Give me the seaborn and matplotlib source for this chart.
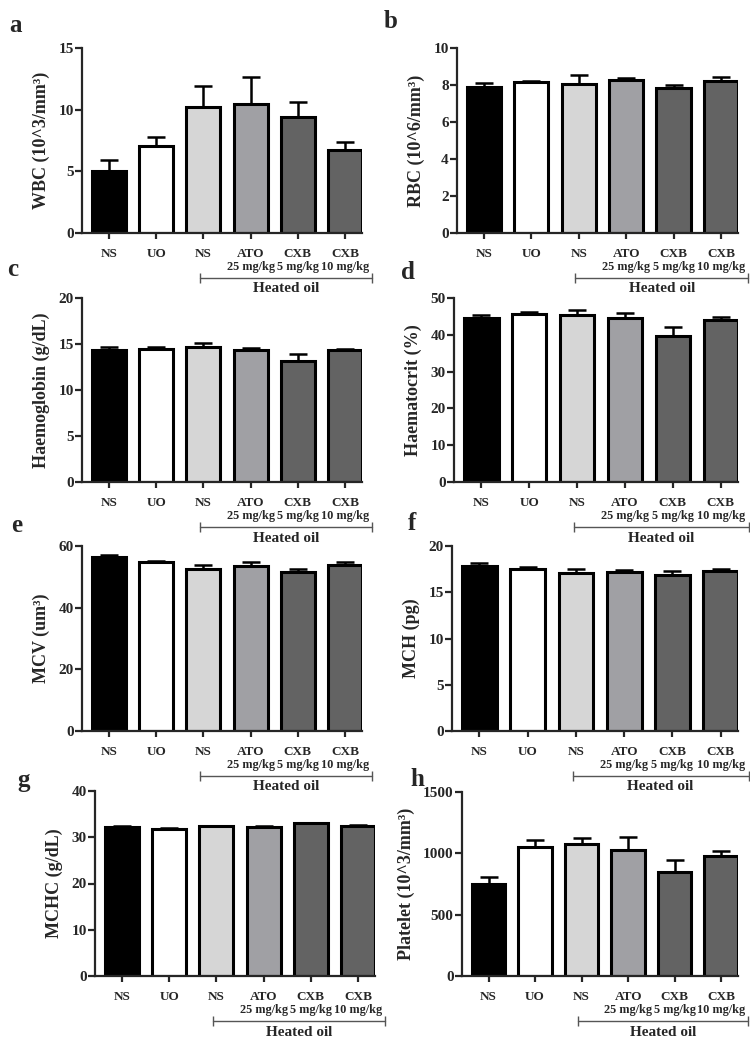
import numpy as np
import pandas as pd
import seaborn as sns
from matplotlib import pyplot as plt

# groups (x order) and tick labels
groups = ['NS', 'UO', 'NS_h', 'ATO', 'CXB5', 'CXB10']
tick_labels = ['NS', 'UO', 'NS', 'ATO', 'CXB', 'CXB']
dose_labels = ['', '', '', '25 mg/kg', '5 mg/kg', '10 mg/kg']
bar_colors = ['#000000', '#ffffff', '#d6d6d6', '#a0a0a4', '#636363', '#636363']

# means and upper error (SEM) for each panel
wbc = [5.0, 7.05, 10.2, 10.45, 9.4, 6.7]
wbc_err = [0.9, 0.75, 1.75, 2.2, 1.25, 0.7]
rbc = [7.89, 8.16, 8.07, 8.25, 7.84, 8.23]
rbc_err = [0.22, 0.06, 0.49, 0.11, 0.18, 0.18]
hb = [14.3, 14.5, 14.7, 14.3, 13.15, 14.3]
hb_err = [0.37, 0.15, 0.45, 0.22, 0.72, 0.18]
hct = [44.5, 45.6, 45.4, 44.6, 39.8, 44.1]
hct_err = [1.0, 0.5, 1.3, 1.2, 2.2, 0.8]
mcv = [56.5, 54.7, 52.5, 53.5, 51.6, 53.7]
mcv_err = [0.6, 0.5, 1.3, 1.2, 1.1, 1.2]
mch = [17.85, 17.55, 17.12, 17.15, 16.88, 17.3]
mch_err = [0.35, 0.22, 0.43, 0.25, 0.42, 0.17]
mchc = [32.2, 31.86, 32.4, 32.2, 33.0, 32.36]
mchc_err = [0.2, 0.14, 0.1, 0.15, 0.15, 0.34]
plt_vals = [754, 1051, 1076, 1024, 851, 978]
plt_err = [49, 54, 51, 108, 98, 41]

panels = [
    ('a', wbc, wbc_err, 'WBC (10^3/mm³)', 15, 5),
    ('b', rbc, rbc_err, 'RBC (10^6/mm³)', 10, 2),
    ('c', hb, hb_err, 'Haemoglobin (g/dL)', 20, 5),
    ('d', hct, hct_err, 'Haematocrit (%)', 50, 10),
    ('e', mcv, mcv_err, 'MCV (um³)', 60, 20),
    ('f', mch, mch_err, 'MCH (pg)', 20, 5),
    ('g', mchc, mchc_err, 'MCHC (g/dL)', 40, 10),
    ('h', plt_vals, plt_err, 'Platelet (10^3/mm³)', 1500, 500),
]

# axes rectangles in pixels: left, right, top, bottom  (figure 750 x 1037)
W, H = 750, 1037
rects = [
    (82, 362, 48, 233), (457, 738, 48, 233),
    (82, 362, 298, 482), (454, 738, 298, 482),
    (82, 362, 546, 731), (452, 738, 546, 731),
    (95, 375, 791, 976), (462, 738, 792, 976),
]
letter_pos = [(9, 25), (384, 22), (7, 269), (401, 272), (11, 525), (408, 523), (17, 780), (410, 780)]

sns.set_style('white')
plt.rcParams['font.family'] = ['Liberation Serif', 'DejaVu Serif']
plt.rcParams['font.weight'] = 'bold'
plt.rcParams['axes.labelweight'] = 'bold'

fig = plt.figure(figsize=(7.5, 10.37), dpi=100)

for (letter, vals, errs, ylab, ymax, ystep), (l, r, t, b), (lx, ly) in zip(panels, rects, letter_pos):
    ax = fig.add_axes([l / W, (H - b) / H, (r - l) / W, (b - t) / H])
    hpx = b - t
    df = pd.DataFrame({'group': groups, 'value': vals})
    sns.barplot(data=df, x='group', y='value', hue='group', palette=bar_colors,
                order=groups, hue_order=groups, legend=False, ax=ax,
                width=0.72, edgecolor='black', linewidth=2.2)
    ax.errorbar(np.arange(len(groups)), vals, yerr=[np.zeros(len(errs)), errs],
                fmt='none', ecolor='black', elinewidth=1.8, capsize=6.5, capthick=1.8, zorder=1)
    ax.set_xlim(-0.57, 5.36)
    ax.set_ylim(0, ymax)
    ax.set_yticks(np.arange(0, ymax + ystep / 2, ystep))
    ax.set_xticks(range(len(groups)))
    ax.set_xticklabels(tick_labels, fontsize=9.5)
    ax.set_xlabel('')
    ax.set_ylabel(ylab, fontsize=13, labelpad=6)
    sns.despine(ax=ax)
    for s in ['left', 'bottom']:
        ax.spines[s].set_linewidth(1.6)
    ax.tick_params(axis='y', labelsize=11, length=5, width=1.6, direction='out', left=True, pad=1)
    ax.tick_params(axis='x', length=4, width=1.6, direction='out', bottom=True, pad=7)

    # dose labels under the drug names
    for i, d in enumerate(dose_labels):
        if d:
            ax.text(i, -34 / hpx, d, transform=ax.get_xaxis_transform(),
                    ha='center', va='center', fontsize=8.8, fontweight='bold')

    # heated oil bracket
    yb = -45 / hpx
    ax.plot([1.93, 5.58], [yb, yb], transform=ax.get_xaxis_transform(), clip_on=False,
            color='#555555', lw=1.0, marker='|', markersize=7, markeredgewidth=1.0)
    ax.text(3.75, -56 / hpx, 'Heated oil', transform=ax.get_xaxis_transform(),
            ha='center', va='center', fontsize=11, fontweight='bold')

    fig.text(lx / W, 1 - ly / H, letter, fontsize=18, fontweight='bold', ha='left', va='center')

fig.savefig('out.png', dpi=100)
